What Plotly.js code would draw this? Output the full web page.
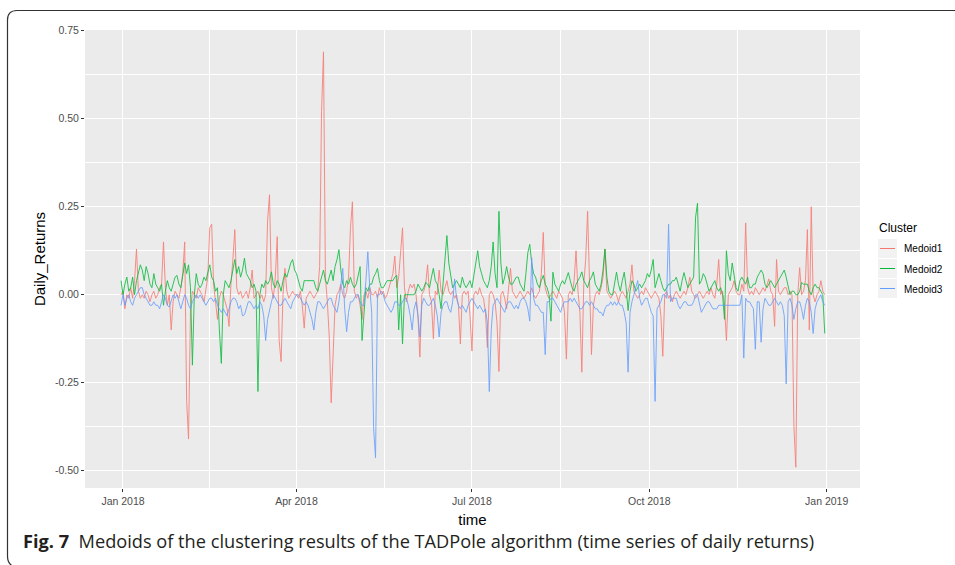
<!DOCTYPE html>
<html>
<head>
<meta charset="utf-8">
<script src="https://cdn.plot.ly/plotly-3.0.1.min.js"></script>
<style>html,body{margin:0;padding:0;background:#fff;}#chart{width:955px;height:565px;}</style>
</head>
<body>
<div id="chart"></div>
<script>
// ---- data (daily returns, first day 2017-12-31) ----
const startDate = "2017-12-31";
const seriesNames = ["Medoid1", "Medoid2", "Medoid3"];
const seriesColors = ["#F8766D", "#00BA38", "#619CFF"];

const medoid1 = [
 0.00,
 0.01,-0.04,0.00,-0.01,0.02,-0.01,0.04,0.13,0.01,-0.01,
 0.00,-0.01,0.01,0.00,-0.02,0.00,0.01,-0.01,0.00,0.02,
 0.03,0.15,0.02,-0.03,0.00,-0.10,-0.02,0.01,0.00,-0.01,
 0.02,0.06,0.15,-0.30,-0.41,-0.05,0.01,0.00,-0.01,0.02,
 0.01,0.00,-0.02,0.01,0.05,0.19,0.20,0.03,-0.03,-0.07,
 -0.01,0.01,0.00,-0.02,-0.04,-0.09,0.03,0.10,0.185,0.02,
 0.00,0.01,-0.01,0.00,0.01,-0.01,0.02,0.07,-0.01,0.00,
 0.01,-0.01,0.00,-0.02,0.00,0.21,0.284,0.02,-0.01,0.05,
 0.165,-0.13,-0.19,0.00,0.075,0.01,-0.01,0.00,0.01,0.00,
 0.00,-0.01,0.01,-0.03,-0.095,-0.01,0.00,0.01,0.00,-0.01,
 0.00,0.01,0.08,0.52,0.69,0.05,-0.02,-0.12,-0.307,-0.19,
 -0.03,0.00,0.01,0.03,0.00,-0.01,0.01,0.05,0.19,0.264,
 0.01,-0.01,0.00,-0.03,-0.07,0.00,0.01,-0.01,0.02,0.00,
 0.00,0.01,-0.01,0.02,0.00,0.01,-0.01,0.00,0.02,0.04,
 0.06,0.11,0.02,0.05,0.13,0.19,0.02,-0.02,0.01,0.03,
 0.02,0.03,0.00,-0.06,-0.177,0.00,0.01,0.03,0.085,0.00,
 -0.02,-0.125,0.01,0.00,0.07,0.01,0.00,0.02,0.04,0.01,
 0.00,0.01,-0.01,0.00,-0.03,-0.14,0.00,0.01,0.00,0.01,
 -0.06,-0.16,0.00,0.01,0.00,0.02,0.00,-0.01,-0.05,-0.15,
 0.00,0.01,0.00,-0.02,-0.08,-0.218,0.00,0.01,-0.01,-0.04,
 0.02,0.075,0.01,0.00,-0.01,0.00,0.01,0.00,-0.01,0.00,
 0.01,0.00,0.02,0.00,-0.01,0.00,0.01,0.06,0.177,0.02,
 0.00,-0.01,0.00,0.01,0.00,-0.01,0.01,0.00,-0.01,-0.05,
 -0.183,0.00,0.01,0.00,0.04,0.125,0.01,-0.05,-0.22,0.03,
 0.10,0.237,0.05,-0.17,-0.03,0.00,0.01,0.00,0.02,0.05,
 0.13,0.01,0.00,-0.01,0.00,0.01,0.00,-0.02,0.00,0.01,
 0.00,-0.01,0.01,0.03,0.085,0.01,0.00,-0.01,0.00,0.01,
 0.00,0.02,0.01,0.00,-0.01,0.00,0.01,0.00,-0.01,-0.06,
 -0.175,0.00,0.01,-0.01,0.00,-0.02,0.00,0.01,0.00,-0.01,
 0.00,0.01,0.00,0.02,0.05,0.01,0.00,-0.01,0.00,0.01,
 0.00,-0.01,0.00,0.01,0.00,0.02,0.00,-0.01,0.03,0.10,
 0.00,0.01,-0.03,-0.13,0.00,0.01,0.02,0.04,0.01,0.00,
 0.00,0.03,0.01,0.204,0.02,0.00,0.01,0.00,0.02,0.01,
 0.00,0.01,0.02,0.01,0.03,0.045,0.01,0.00,-0.09,0.10,
 0.01,0.00,0.01,0.02,0.02,0.00,0.01,0.00,-0.37,-0.49,
 0.00,0.077,0.00,0.01,0.04,0.185,-0.10,0.25,0.00,-0.02,
 0.00,0.01,0.04,0.01,0.00
];

const medoid2 = [
 0.04,
 0.00,0.03,0.05,0.01,0.02,0.05,0.00,0.04,0.06,0.085,
 0.07,0.04,0.08,0.06,0.03,0.02,0.06,0.03,0.02,0.01,
 0.03,-0.03,0.01,0.04,0.02,0.01,0.03,0.05,0.055,0.03,
 0.02,0.05,0.09,0.06,0.085,0.02,-0.20,0.00,0.06,0.03,
 0.02,0.03,0.05,0.04,0.06,0.085,0.05,0.04,0.01,0.02,
 -0.10,-0.195,0.00,0.04,0.03,0.02,0.04,0.07,0.10,0.06,
 0.08,0.05,0.07,0.104,0.06,0.05,0.04,0.02,0.03,0.01,
 -0.275,0.00,0.03,0.02,0.04,0.03,0.04,0.065,0.03,0.02,
 0.04,0.03,0.01,0.04,0.06,0.05,0.07,0.09,0.10,0.07,
 0.06,0.04,0.02,0.01,0.04,0.04,0.04,0.04,0.04,0.04,
 0.02,0.01,0.03,0.05,0.07,0.04,0.03,0.05,0.07,0.04,
 0.08,0.10,0.128,0.07,0.03,0.02,0.04,0.03,0.05,0.03,
 0.02,0.03,0.06,0.08,-0.13,-0.05,0.02,0.01,0.03,0.03,
 0.05,0.06,0.075,0.04,0.02,0.02,0.03,0.04,0.04,0.04,
 0.04,0.05,0.055,-0.10,0.00,-0.14,0.00,0.00,0.00,0.00,
 0.00,0.00,0.01,0.03,0.02,0.01,0.02,0.035,0.03,0.02,
 0.05,0.075,0.04,0.03,0.00,-0.04,0.03,0.10,0.168,0.09,
 0.06,0.02,0.03,0.04,0.03,0.02,0.05,0.03,0.02,0.03,
 0.04,0.02,0.05,0.09,0.125,0.08,0.06,0.04,0.03,0.02,
 0.04,0.08,0.15,0.06,0.02,0.237,0.09,0.03,0.05,0.08,
 0.05,0.03,0.03,0.04,0.05,0.05,0.03,0.02,0.01,0.06,
 0.12,0.143,0.09,0.06,0.05,0.03,0.02,0.04,0.055,0.03,
 0.02,0.00,-0.075,0.064,0.03,0.02,0.01,0.03,0.04,0.03,
 0.05,0.063,0.04,0.02,0.01,0.03,0.04,0.05,0.065,0.04,
 0.03,0.02,0.04,0.05,0.065,0.03,0.02,0.01,0.03,0.07,
 0.13,0.05,0.01,0.00,0.00,0.03,0.064,0.03,0.01,0.04,
 0.064,0.02,-0.045,0.01,0.04,0.03,0.01,0.02,0.03,0.02,
 0.03,0.04,0.06,0.05,0.07,0.10,0.02,0.04,0.06,0.04,
 0.02,0.01,0.02,0.03,0.03,0.04,0.04,0.05,0.03,0.01,
 0.04,0.063,0.04,0.02,0.03,0.04,0.05,0.22,0.26,0.03,
 0.04,0.06,0.05,0.03,0.01,0.02,0.03,0.04,0.02,0.01,
 0.02,0.00,-0.07,0.125,0.06,0.04,0.09,0.05,0.02,0.01,
 0.04,0.05,0.04,0.03,0.05,0.02,0.02,0.03,0.03,0.05,
 0.06,0.07,0.06,0.03,0.02,0.03,0.04,0.03,0.02,0.03,
 0.04,0.05,0.06,0.07,0.05,0.02,0.00,0.01,0.01,0.00,
 0.00,0.01,0.035,0.03,0.03,0.03,0.01,0.00,0.02,0.03,
 0.02,0.02,0.01,0.00,-0.11
];

const medoid3 = [
 -0.03,
 0.00,-0.03,-0.01,0.00,-0.02,-0.03,-0.01,0.00,0.01,0.02,
 0.02,0.00,-0.01,-0.02,-0.03,-0.03,-0.02,-0.03,-0.03,-0.04,
 -0.02,0.00,-0.01,-0.03,-0.035,-0.02,0.00,-0.01,0.00,-0.02,
 -0.04,-0.02,0.00,-0.01,-0.03,-0.04,-0.02,-0.01,0.00,-0.01,
 0.00,-0.01,-0.02,-0.03,-0.02,-0.01,-0.01,-0.02,-0.01,-0.03,
 -0.04,-0.05,-0.04,-0.05,-0.06,-0.04,-0.02,-0.01,-0.01,-0.02,
 -0.04,-0.03,-0.06,-0.057,-0.04,-0.02,-0.02,-0.03,-0.04,-0.03,
 -0.04,-0.02,-0.03,-0.06,-0.13,-0.07,-0.04,-0.02,0.00,-0.01,
 -0.02,-0.03,-0.03,-0.02,-0.01,-0.02,-0.03,-0.04,-0.02,-0.01,
 0.00,0.00,-0.01,-0.02,-0.03,-0.02,-0.03,-0.05,-0.07,-0.10,
 -0.05,-0.02,-0.02,-0.03,-0.04,-0.03,-0.02,-0.01,-0.01,-0.03,
 -0.04,-0.05,-0.02,0.02,0.075,-0.04,-0.105,-0.05,-0.02,-0.02,
 -0.01,0.00,0.00,-0.02,-0.03,-0.03,0.04,0.122,0.02,-0.05,
 -0.38,-0.463,0.00,0.00,0.01,0.00,-0.02,-0.03,-0.04,-0.05,
 -0.04,-0.02,-0.02,-0.03,-0.03,-0.02,-0.01,-0.01,-0.03,-0.06,
 -0.10,-0.04,-0.02,-0.06,-0.12,-0.03,-0.01,-0.02,-0.03,-0.03,
 -0.02,-0.01,-0.03,-0.06,-0.12,-0.05,-0.03,-0.02,-0.02,-0.04,
 -0.05,-0.02,0.045,-0.01,-0.03,-0.04,-0.03,-0.04,-0.05,-0.03,
 -0.02,-0.01,-0.02,-0.03,-0.04,-0.03,-0.04,-0.05,-0.04,-0.08,
 -0.275,-0.10,-0.03,-0.02,-0.01,-0.02,-0.03,-0.04,-0.05,-0.03,
 -0.02,-0.02,-0.03,-0.04,-0.03,-0.04,-0.02,-0.01,-0.01,-0.02,
 -0.04,-0.075,0.105,-0.01,-0.03,-0.03,-0.04,-0.05,-0.05,-0.17,
 -0.02,-0.02,-0.01,-0.01,-0.02,-0.03,-0.04,-0.05,-0.03,-0.02,
 -0.02,-0.02,-0.01,-0.02,-0.01,-0.02,-0.03,-0.04,-0.04,-0.03,
 -0.02,-0.02,-0.03,-0.02,-0.03,-0.04,-0.04,-0.05,-0.05,-0.06,
 -0.04,-0.03,-0.03,-0.02,-0.03,-0.02,-0.03,-0.02,-0.03,-0.03,
 -0.05,-0.08,-0.22,-0.05,-0.02,0.00,0.02,0.04,-0.01,-0.03,
 -0.02,-0.01,-0.01,-0.03,-0.05,-0.06,-0.303,-0.04,-0.03,-0.02,
 0.00,0.00,-0.01,0.20,-0.02,-0.01,-0.01,-0.01,-0.03,-0.04,
 -0.03,-0.02,-0.02,-0.03,-0.03,-0.03,-0.02,0.00,0.00,-0.03,
 -0.05,-0.04,-0.03,-0.02,-0.02,-0.03,-0.04,-0.04,-0.04,-0.03,
 -0.03,-0.03,-0.03,-0.03,-0.03,-0.03,-0.03,-0.03,-0.03,-0.03,
 -0.03,0.00,-0.18,-0.01,-0.02,-0.02,-0.03,-0.04,-0.155,-0.02,
 -0.02,-0.135,-0.04,-0.01,-0.02,-0.03,-0.03,-0.02,-0.01,-0.02,
 -0.03,-0.02,-0.03,-0.06,-0.253,-0.02,-0.01,-0.03,-0.07,-0.04,
 -0.02,-0.02,-0.04,-0.07,-0.03,-0.01,-0.02,-0.05,-0.11,-0.04,
 -0.02,-0.01,0.00,-0.02,-0.03
];

const xTickVals = ["2018-01-01", "2018-04-01", "2018-07-01", "2018-10-01", "2019-01-01"];
const xTickText = ["Jan 2018", "Apr 2018", "Jul 2018", "Oct 2018", "Jan 2019"];
const xMinorVals = ["2018-02-15", "2018-05-16 12:00", "2018-08-16", "2018-11-16"];
const yTickVals = [0.75, 0.5, 0.25, 0, -0.25, -0.5];
const yTickText = ["0.75", "0.50", "0.25", "0.00", "-0.25", "-0.50"];
const yMinorVals = [0.625, 0.375, 0.125, -0.125, -0.375];

const legendTitle = "Cluster";
const xTitle = "time";
const yTitle = "Daily_Returns";
const captionBold = "Fig. 7";
const captionText = "Medoids of the clustering results of the TADPole algorithm (time series of daily returns)";

// ---- build ----
const W = 955, H = 565;
const M = {l: 85, r: 95, t: 30, b: 77};
const PW = W - M.l - M.r, PH = H - M.t - M.b;
const px = x => (x - M.l) / PW;          // pixel -> paper x
const py = y => (H - M.b - y) / PH;      // pixel -> paper y

const t0 = Date.parse(startDate + "T00:00:00Z");
const allSeries = [medoid1, medoid2, medoid3];
const traces = allSeries.map((vals, k) => ({
  type: "scatter",
  mode: "lines",
  name: seriesNames[k],
  x: vals.map((_, i) => new Date(t0 + i * 86400000).toISOString().slice(0, 10)),
  y: vals,
  line: {color: seriesColors[k], width: 0.9},
  opacity: 0.9,
  showlegend: false,
  hoverinfo: "x+y+name"
}));

const font = "Liberation Sans, Arial, Helvetica, sans-serif";
const shapes = [];
const annotations = [];

// custom ggplot-like legend
annotations.push({
  xref: "paper", yref: "paper", x: px(877), y: py(228), xanchor: "left", yanchor: "middle",
  text: legendTitle, showarrow: false, font: {family: font, size: 12, color: "#000"}
});
seriesNames.forEach((nm, k) => {
  const top = 239 + k * 20;
  shapes.push({type: "rect", xref: "paper", yref: "paper", x0: px(878), x1: px(897), y0: py(top), y1: py(top + 19),
    fillcolor: "#F2F2F2", line: {width: 0}, layer: "above"});
  shapes.push({type: "line", xref: "paper", yref: "paper", x0: px(880), x1: px(895), y0: py(top + 9.5), y1: py(top + 9.5),
    line: {color: seriesColors[k], width: 1}, layer: "above"});
  annotations.push({
    xref: "paper", yref: "paper", x: px(902), y: py(top + 10), xanchor: "left", yanchor: "middle",
    text: nm, showarrow: false, font: {family: font, size: 10, color: "#000"}
  });
});

// caption
annotations.push({
  xref: "paper", yref: "paper", x: px(21), y: py(541), xanchor: "left", yanchor: "middle",
  text: "<b>" + captionBold + "</b>\u00a0\u00a0" + captionText, showarrow: false,
  font: {family: "Open Sans, Noto Sans, sans-serif", size: 18.2, color: "#231F20"}
});

// rounded figure frame
shapes.push({
  type: "path", xref: "paper", yref: "paper", layer: "above",
  path: `M ${px(960)} ${py(10.5)} L ${px(17)} ${py(10.5)} Q ${px(7.5)} ${py(10.5)} ${px(7.5)} ${py(20)} ` +
        `L ${px(7.5)} ${py(556)} Q ${px(7.5)} ${py(565)} ${px(15)} ${py(567)}`,
  line: {color: "#333", width: 1.2}
});

const layout = {
  width: W, height: H,
  margin: M,
  paper_bgcolor: "#ffffff",
  plot_bgcolor: "#EBEBEB",
  showlegend: false,
  font: {family: font, color: "#4D4D4D"},
  xaxis: {
    type: "date",
    range: ["2017-12-12 07:00", "2019-01-18 07:00"],
    tickmode: "array", tickvals: xTickVals, ticktext: xTickText,
    ticks: "outside", ticklen: 3, tickwidth: 1, tickcolor: "#333",
    tickfont: {family: font, size: 10.5, color: "#4D4D4D"},
    showgrid: true, gridcolor: "#FFFFFF", gridwidth: 1.1,
    minor: {tickmode: "array", tickvals: xMinorVals, showgrid: true, gridcolor: "#FFFFFF", gridwidth: 0.5, ticks: ""},
    zeroline: false, showline: false, fixedrange: true,
    title: {text: xTitle, font: {family: font, size: 15, color: "#000"}, standoff: 8}
  },
  yaxis: {
    range: [-0.549, 0.752],
    tickmode: "array", tickvals: yTickVals, ticktext: yTickText,
    ticks: "outside", ticklen: 3, tickwidth: 1, tickcolor: "#333",
    tickfont: {family: font, size: 10.5, color: "#4D4D4D"},
    showgrid: true, gridcolor: "#FFFFFF", gridwidth: 1.1,
    minor: {tickmode: "array", tickvals: yMinorVals, showgrid: true, gridcolor: "#FFFFFF", gridwidth: 0.5, ticks: ""},
    zeroline: false, showline: false, fixedrange: true,
    title: {text: yTitle, font: {family: font, size: 15, color: "#000"}, standoff: 5}
  },
  shapes: shapes,
  annotations: annotations
};

Plotly.newPlot("chart", traces, layout, {displayModeBar: false, staticPlot: false});
</script>
</body>
</html>
